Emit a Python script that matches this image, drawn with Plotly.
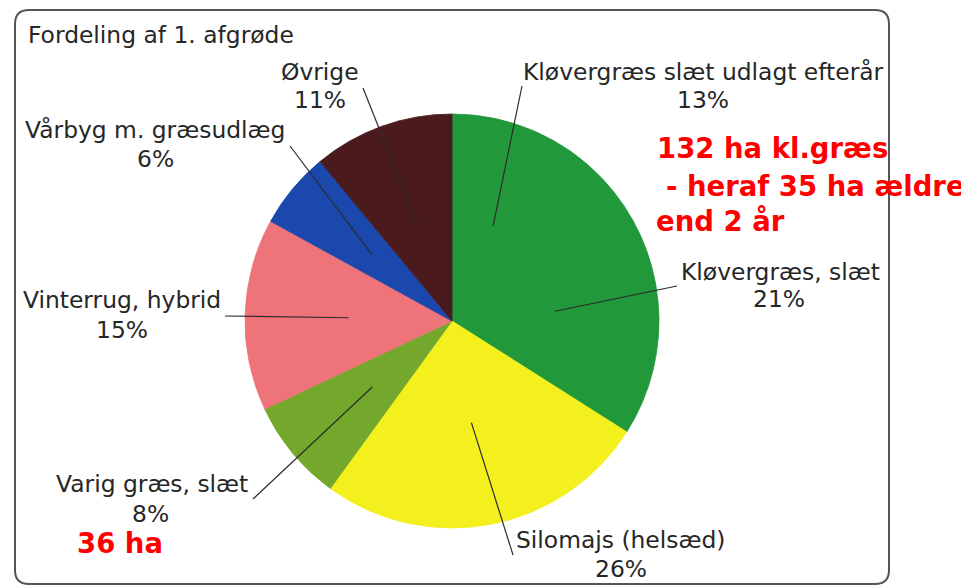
import math
import plotly.graph_objects as go

# ---- data ----
labels = [
    "Kløvergræs slæt udlagt efterår",
    "Kløvergræs, slæt",
    "Silomajs (helsæd)",
    "Varig græs, slæt",
    "Vinterrug, hybrid",
    "Vårbyg m. græsudlæg",
    "Øvrige",
]
values = [13, 21, 26, 8, 15, 6, 11]
colors = ["#21983a", "#21983a", "#f4f01e", "#74a82c", "#ee7479", "#1a48ad", "#4b1a1c"]
title_text = "Fordeling af 1. afgrøde"
red_notes = ["132 ha kl.græs", "- heraf 35 ha ældre", "end 2 år"]
red_note_varig = "36 ha"

# ---- layout geometry (pixels in the photographed page) ----
W, H = 969, 587
OFF = 8  # page body margin
CX, CY, R = 452, 321, 207
# label text centres (name line, pct line) and leader-line outer ends
label_pos = [
    (703, 72, 703, 100, 522, 86),
    (780, 272, 779, 299, 677, 286),
    (620, 540, 621, 569, 513, 555),
    (152, 484, 150, 514, 253, 499),
    (122, 300, 122, 330, 225, 316),
    (155, 130, 155, 159, 290, 146),
    (320, 72, 320, 100, 363, 88),
]

fig = go.Figure()
fig.add_trace(go.Pie(
    labels=labels, values=values, sort=False, direction="clockwise", rotation=0,
    marker=dict(colors=colors, line=dict(width=0.8, color=colors)),
    textinfo="none", hoverinfo="label+percent", showlegend=False,
    domain=dict(x=[(CX - R - OFF) / W, (CX + R - OFF) / W],
                y=[1 - (CY + R - OFF) / H, 1 - (CY - R - OFF) / H]),
))

shapes = []
annotations = []
TXT = dict(family="DejaVu Sans, Arial, sans-serif", size=23.4, color="#262626")
RED = dict(family="DejaVu Sans, Arial, sans-serif", size=27.5, color="#ff0000")

# rounded frame
x0, y0, x1, y1, rr = 15, 10, 889, 584, 14
path = (f"M {x0+rr} {y0} L {x1-rr} {y0} Q {x1} {y0} {x1} {y0+rr} L {x1} {y1-rr} "
        f"Q {x1} {y1} {x1-rr} {y1} L {x0+rr} {y1} Q {x0} {y1} {x0} {y1-rr} "
        f"L {x0} {y0+rr} Q {x0} {y0} {x0+rr} {y0} Z")
shapes.append(dict(type="path", path=path, xref="x", yref="y",
                   line=dict(color="#555555", width=2), layer="below"))

total = sum(values)
cum = 0
for lab, v, pos in zip(labels, values, label_pos):
    mid = (cum + v / 2) / total * 2 * math.pi
    cum += v
    ix = CX + 0.5 * R * math.sin(mid)
    iy = CY - 0.5 * R * math.cos(mid)
    nx, ny, px, py, ox, oy = pos
    shapes.append(dict(type="line", xref="x", yref="y", x0=ox, y0=oy, x1=ix, y1=iy,
                       line=dict(color="#2b2b2b", width=1.2)))
    annotations.append(dict(x=nx, y=ny, xref="x", yref="y", text=lab, showarrow=False,
                            xanchor="center", yanchor="middle", font=TXT))
    annotations.append(dict(x=px, y=py, xref="x", yref="y", text=f"{v}%", showarrow=False,
                            xanchor="center", yanchor="middle", font=TXT))

annotations.append(dict(x=26, y=35, xref="x", yref="y", text=title_text, showarrow=False,
                        xanchor="left", yanchor="middle", font=TXT))
for txt, (lx, ly) in zip(red_notes, [(655, 147.5), (664, 185.5), (654, 220.5)]):
    annotations.append(dict(x=lx, y=ly, xref="x", yref="y", text=f"<b>{txt}</b>",
                            showarrow=False, xanchor="left", yanchor="middle", font=RED))
annotations.append(dict(x=120, y=542.5, xref="x", yref="y", text=f"<b>{red_note_varig}</b>",
                        showarrow=False, xanchor="center", yanchor="middle", font=RED))

fig.update_layout(
    width=W, height=H, margin=dict(l=0, r=0, t=0, b=0),
    paper_bgcolor="white", plot_bgcolor="rgba(0,0,0,0)",
    xaxis=dict(range=[OFF, W + OFF], visible=False, domain=[0, 1], fixedrange=True),
    yaxis=dict(range=[H + OFF, OFF], visible=False, domain=[0, 1], fixedrange=True),
    shapes=shapes, annotations=annotations, showlegend=False,
)
fig.write_html("out.html")
